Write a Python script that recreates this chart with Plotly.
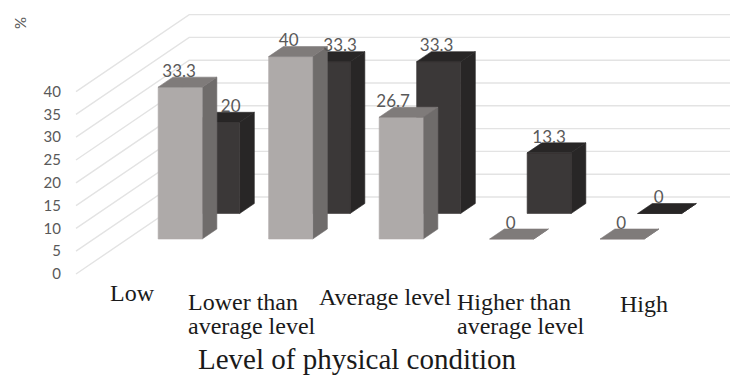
import plotly.graph_objects as go

# ---- data ----
categories = ["Low", "Lower than<br>average level", "Average level",
              "Higher than<br>average level", "High"]
front_values = [33.3, 40, 26.7, 0, 0]
back_values = [20, 33.3, 33.3, 13.3, 0]
front_labels = ["33.3", "40", "26.7", "0", "0"]
back_labels = ["20", "33.3", "33.3", "13.3", "0"]
y_ticks = [0, 5, 10, 15, 20, 25, 30, 35, 40]

# ---- geometry ----
W, H = 730, 376
ML = 62
PX_CAT = 110.5        # px per category
PX_VAL = 4.56         # px per value unit
DX, DY = 14.7, 10.0   # px per depth unit
X0, Y0 = 76.0, 274.0  # corner of floor / wall front in px
BAR_W = 44.0 / PX_CAT
BAR_START = (106.7 - X0) / PX_CAT
FRONT_D, BACK_D, WALL_D = 3.5, 6.05, 7.7
RIGHT_END = (W - X0) / PX_CAT


def project(c, v, d):
    """Oblique projection: category units, value units, depth units -> axis coords."""
    return c + d * DX / PX_CAT, v + d * DY / PX_VAL


def paper(px, py):
    return (px - ML) / (W - ML), 1 - py / H


fig = go.Figure()


def poly(pts, color):
    xs, ys = zip(*pts)
    fig.add_trace(go.Scatter(x=list(xs) + [xs[0]], y=list(ys) + [ys[0]], mode="lines",
                             fill="toself", fillcolor=color,
                             line=dict(color=color, width=0.6), hoverinfo="skip"))


# gridlines
gx, gy = [], []
for t in y_ticks:
    for c, d in ((0, 0), (0, WALL_D), (RIGHT_END, WALL_D)):
        px, py = project(c if d == 0 or c == 0 else c - WALL_D * DX / PX_CAT, t, d)
        gx.append(px)
        gy.append(py)
    gx.append(None)
    gy.append(None)
fig.add_trace(go.Scatter(x=gx, y=gy, mode="lines", line=dict(color="#e3e3e3", width=1.4),
                         hoverinfo="skip"))


def bars(values, depth, front_c, side_c, top_c):
    for i, v in enumerate(values):
        a = BAR_START + i
        b = a + BAR_W
        d0, d1 = depth, depth + 1
        poly([project(b, 0, d0), project(b, 0, d1), project(b, v, d1), project(b, v, d0)], side_c)
        poly([project(a, 0, d0), project(b, 0, d0), project(b, v, d0), project(a, v, d0)], front_c)
        poly([project(a, v, d0), project(b, v, d0), project(b, v, d1), project(a, v, d1)], top_c)


bars(back_values, BACK_D, "#3b3838", "#282626", "#282626")
bars(front_values, FRONT_D, "#aeaaa9", "#6f6c6b", "#7f7b7a")


def labels(values, texts, depth, nudges):
    xs, ys = [], []
    for i, v in enumerate(values):
        cx, _ = project(BAR_START + i + BAR_W / 2, v, depth)
        _, cy = project(0, v, depth + 1)
        xs.append(cx + nudges[i] / PX_CAT)
        ys.append(cy + 4.5 / PX_VAL)
    fig.add_trace(go.Scatter(x=xs, y=ys, mode="text", text=texts, textposition="middle center",
                             textfont=dict(family="Lato", size=17, color="#595959"),
                             hoverinfo="skip"))


labels(back_values, back_labels, BACK_D, [13, 12, -2, 0, -1])
labels(front_values, front_labels, FRONT_D, [-1, -2, -8, -1, -1])

# category labels and titles (free-floating text boxes in the reference)
cat_pos = [(110, 293), (188, 302), (319, 297), (457, 302), (620, 304)]
LINE_GAP = 24
for name, (px, py) in zip(categories, cat_pos):
    for k, line in enumerate(name.split("<br>")):
        ax, ay = paper(px, py + k * LINE_GAP)
        fig.add_annotation(x=ax, y=ay, xref="paper", yref="paper", text=line, showarrow=False,
                           xanchor="left", yanchor="middle", align="left", xshift=-2,
                           font=dict(family="Liberation Serif", size=24, color="#1a1a1a"))
ax, ay = paper(198, 359)
fig.add_annotation(x=ax, y=ay, xref="paper", yref="paper", text="Level of physical condition",
                   showarrow=False, xanchor="left", yanchor="middle", xshift=-2,
                   font=dict(family="Liberation Serif", size=29, color="#1a1a1a"))
ax, ay = paper(20, 23)
fig.add_annotation(x=ax, y=ay, xref="paper", yref="paper", text="%", showarrow=False, textangle=-90,
                   xanchor="center", yanchor="middle",
                   font=dict(family="Lato", size=15, color="#595959"))

fig.update_layout(
    width=W, height=H, showlegend=False, paper_bgcolor="white", plot_bgcolor="white",
    margin=dict(l=ML, r=0, t=0, b=0),
    xaxis=dict(range=[(ML - X0) / PX_CAT, (W - X0) / PX_CAT], visible=False, fixedrange=True),
    yaxis=dict(range=[(Y0 - H) / PX_VAL, Y0 / PX_VAL], tickvals=y_ticks, showgrid=False,
               zeroline=False, showline=False, ticks="", fixedrange=True,
               tickfont=dict(family="Lato", size=15, color="#595959")),
)
fig.write_html("out.html", config=dict(displayModeBar=False),
               post_script="document.body.style.margin='0';document.documentElement.style.overflow='hidden';")
